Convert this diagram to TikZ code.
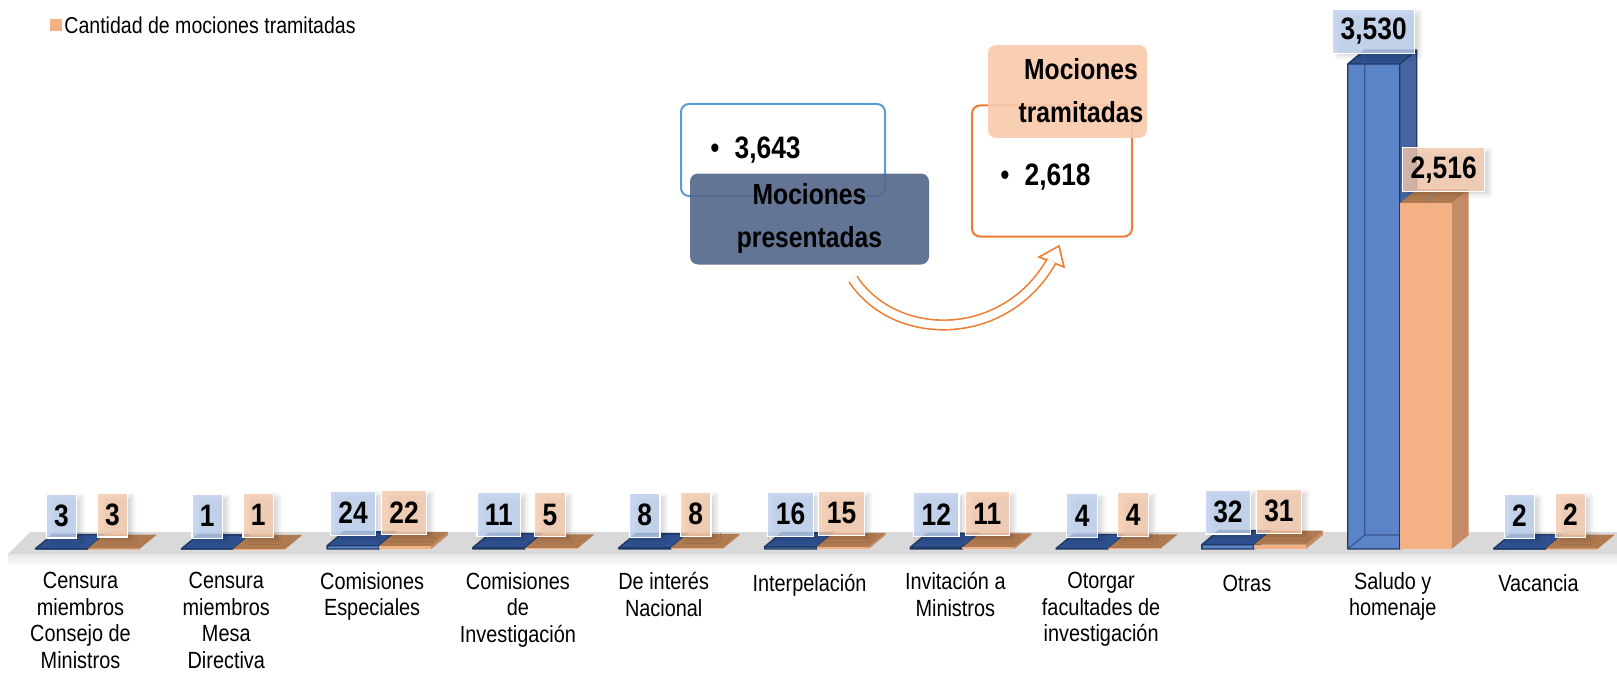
\documentclass[tikz,border=0pt]{standalone}
\usepackage{fontspec}
\setmainfont{Liberation Sans}[FakeStretch=0.85]
\usetikzlibrary{shadows.blur}

\definecolor{azulFrente}{HTML}{5A83C8}
\definecolor{azulLado}{HTML}{44659F}
\definecolor{azulTecho}{HTML}{2F5190}
\definecolor{azulBorde}{HTML}{1F3864}
\definecolor{naranjaFrente}{HTML}{F4B183}
\definecolor{naranjaLado}{HTML}{C48B65}
\definecolor{naranjaTecho}{HTML}{B07A50}
\definecolor{etiqAzul}{HTML}{BDD0EE}
\definecolor{etiqNaranja}{HTML}{F5C9AC}
\definecolor{piso}{HTML}{D9D9D9}
\definecolor{cajaAzul}{HTML}{5B9BD5}
\definecolor{pizarra}{HTML}{56698C}
\definecolor{cajaNaranja}{HTML}{ED7D31}
\definecolor{durazno}{HTML}{F8CBAD}

\begin{document}
\begin{tikzpicture}[x=0.5pt, y=-0.5pt,
		declare function = {
				base = 549;
				esc = 485/3530;
				hondo = 17;
				alto = 14;
				ancho = 52;
				centro(\k) = 80.5 + 145.8*\k;
			},
		valor/.style={font=\bfseries\fontsize{15.5}{16}\selectfont, inner xsep=4pt, inner ysep=0pt, minimum height=22pt, anchor=south, draw=white, line width=0.6pt, fill opacity=0.8, text opacity=1, blur shadow={shadow xshift=2.5pt, shadow yshift=-1.5pt, shadow opacity=20}},
		valor azul/.style={valor, fill=etiqAzul},
		valor naranja/.style={valor, fill=etiqNaranja},
		categoria/.style={font=\fontsize{11.7}{13.3}\selectfont, align=center, anchor=north, inner sep=0pt, execute at begin node=\strut},
		titulo/.style={font=\bfseries\fontsize{14.5}{21.5}\selectfont, align=center, inner sep=0pt},
		cifra/.style={font=\bfseries\fontsize{15.5}{16}\selectfont, anchor=west, inner sep=0pt},
		flecha/.style={draw=cajaNaranja, line width=0.8pt, line join=miter},
	]
	\path[use as bounding box] (0,0) rectangle (1617,674);
	\node[fill=naranjaFrente, minimum size=6pt, inner sep=0pt] (ley-marca) at (56,25) {};
	\node[font=\fontsize{11.5}{13.3}\selectfont, anchor=west, inner sep=0pt] (ley-texto) at (64,25) {Cantidad de mociones tramitadas};
	\fill[piso] (8,554) -- (30,532) -- (1617,532) -- (1617,554) -- cycle;
	\shade[top color=black!10, bottom color=white] (8,554) rectangle (1617,566);
	\foreach \i/\vp/\vt/\ep/\et/\nombre in {
			0/3/3/3/3/{Censura\\miembros\\Consejo de\\Ministros},
			1/1/1/1/1/{Censura\\miembros\\Mesa\\Directiva},
			2/24/22/24/22/{Comisiones\\Especiales},
			3/11/5/11/5/{Comisiones\\de\\Investigación},
			4/8/8/8/8/{De interés\\Nacional},
			5/16/15/16/15/{Interpelación},
			6/12/11/12/11/{Invitación a\\Ministros},
			7/4/4/4/4/{Otorgar\\facultades de\\investigación},
			8/32/31/32/31/{Otras},
			9/3530/2516/{3,530}/{2,516}/{Saludo y\\homenaje},
			10/2/2/2/2/{Vacancia}}{
		\pgfmathsetmacro\c{centro(\i)}
		\pgfmathsetmacro\hp{\vp*esc}
		\pgfmathsetmacro\hn{\vt*esc}
		\pgfmathsetmacro\desp{\vt>1000 ? 51 : 32}
		\fill[azulLado] ({\c+7},base) -- ++(hondo,-alto) -- ++(0,-\hp) -- ({\c+7},{base-\hp}) -- cycle;
		\fill[azulTecho] ({\c-45},{base-\hp}) -- ++(hondo,-alto) -- ++(ancho,0) -- ++(-hondo,alto) -- cycle;
		\fill[azulFrente] ({\c-45},base) rectangle ({\c+7},{base-\hp});
		\ifdim\hp pt>20pt
			\draw[azulBorde!60!azulFrente, line width=0.6pt] ({\c-45},base) -- ++(hondo,-alto) -- ++(ancho,0) ({\c-45+hondo},{base-alto}) -- ++(0,-\hp);
		\fi
		\draw[azulBorde, line width=0.7pt, line join=round] ({\c-45},base) rectangle ({\c+7},{base-\hp}) ({\c-45},{base-\hp}) -- ++(hondo,-alto) -- ++(ancho,0) -- ++(-hondo,alto) ++(hondo,-alto) -- ++(0,\hp) -- ++(-hondo,alto);
		\fill[naranjaLado] ({\c+59},base) -- ++(hondo,-alto) -- ++(0,-\hn) -- ({\c+59},{base-\hn}) -- cycle;
		\fill[naranjaTecho] ({\c+7},{base-\hn}) -- ++(hondo,-alto) -- ++(ancho,0) -- ++(-hondo,alto) -- cycle;
		\fill[naranjaFrente] ({\c+7},base) rectangle ({\c+59},{base-\hn});
		\node[valor azul] (vp-\i) at ({\c-19},{base-\hp-10}) {\ep};
		\node[valor naranja] (vt-\i) at ({\c+\desp},{base-\hn-11}) {\et};
		\node[categoria] (cat-\i) at (\c,572) {\nombre};
	}
	\draw[gray, line width=0.6pt] ([xshift=-4pt]vt-9.south) -- ++(-10,9);
	\node[draw=cajaAzul, line width=1pt, rounded corners=4pt, minimum width=102pt, minimum height=46pt, fill=white] (caja-presentadas) at (783,150) {};
	\node[cifra] (num-presentadas) at (710,150) {{\mdseries •}\hspace{7.5pt}3,643};
	\node[titulo, fill=pizarra, fill opacity=0.92, text opacity=1, rounded corners=4pt, minimum width=119.5pt, minimum height=45.5pt] (rotulo-presentadas) at (809.5,219) {Mociones\\presentadas};
	\node[draw=cajaNaranja, line width=1pt, rounded corners=4pt, minimum width=80pt, minimum height=65.5pt, fill=white] (caja-tramitadas) at (1052,171) {};
	\node[cifra] (num-tramitadas) at (1000,177) {{\mdseries •}\hspace{7.5pt}2,618};
	\node[fill=durazno, fill opacity=0.92, rounded corners=4pt, minimum width=79.5pt, minimum height=46.5pt] (fondo-tramitadas) at (1067.5,91.5) {};
	\node[titulo] (rotulo-tramitadas) at (1081,91) {Mociones\\tramitadas};
	\coordinate (flecha-ini) at (853,279);
	\coordinate (flecha-fin) at (1051.5,261);
	\coordinate (punta) at (1059,246);
	\filldraw[flecha, fill=white] (punta) -- (1039,257) -- (1064,267) -- cycle;
	\draw[flecha, double=white, double distance=4pt] (flecha-ini) .. controls (895,343) and (1005,343) .. (flecha-fin);
\end{tikzpicture}
\end{document}
